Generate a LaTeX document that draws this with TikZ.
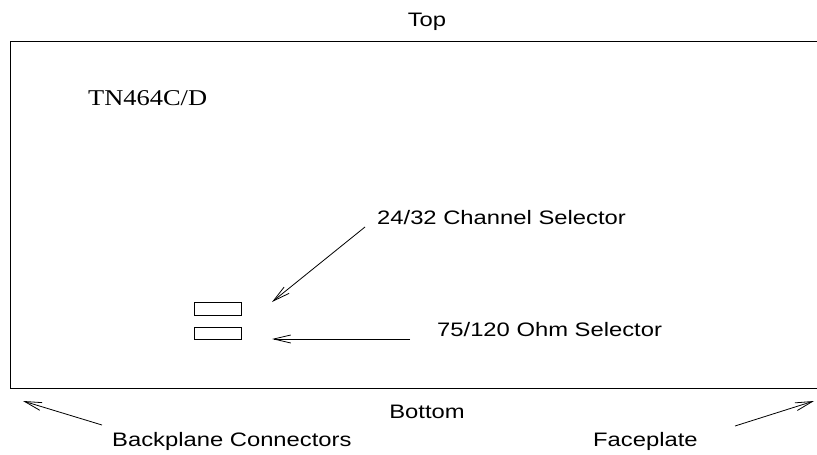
\documentclass[tikz,border=0pt]{standalone}
\usepackage{fontspec}
\usetikzlibrary{arrows.meta}
\newfontfamily\figsans[FakeStretch=1.22]{Liberation Sans}
\newfontfamily\figserif[FakeStretch=1.17]{Liberation Serif}

\begin{document}
\begin{tikzpicture}[
  x=1pt, y=-1pt,
  outline/.style={black, line width=1pt},
  switchbox/.style={draw, black, line width=0.9pt, minimum width=47pt, minimum height=12.5pt, inner sep=0pt},
  pointer/.style={-{Straight Barb[length=17pt, width=8pt]}, black, line width=0.8pt},
  label/.style={font=\figsans\fontsize{19.5}{23}\selectfont, inner sep=0pt, anchor=base west},
]
\useasboundingbox (0,0) rectangle (817,455);

% ===== Board outline (open towards the right) =====
\draw[outline] (817,41) -- (10,41) -- (10,388) -- (817,388);

% ===== Edge labels =====
\node[label, anchor=base] (top) at (427,27) {Top};
\node[label, anchor=base] (bottom) at (427,418) {Bottom};
\node[font=\figserif\fontsize{22.6}{26}\selectfont, inner sep=0pt, anchor=base west] (board) at (88,105) {TN464C/D};

% ===== Selector switches =====
\node[switchbox, anchor=north west] (chansw) at (194,302) {};
\node[switchbox, anchor=north west] (ohmsw) at (194,326.5) {};

\node[label] (chanlbl) at (377,224) {24/32 Channel Selector};
\node[label] (ohmlbl) at (437,336.5) {75/120 Ohm Selector};

\coordinate (chantail) at (365,227);
\coordinate (chantip) at (272,302);
\coordinate (ohmtail) at (410,339);
\coordinate (ohmtip) at (272,339);
\draw[pointer] (chantail) -- (chantip);
\draw[pointer] (ohmtail) -- (ohmtip);

% ===== Orientation labels below the board =====
\node[label] (backlbl) at (112,446) {Backplane Connectors};
\node[label] (facelbl) at (593,446) {Faceplate};

\coordinate (backtail) at (102,425);
\coordinate (backtip) at (23,401);
\coordinate (facetail) at (735,426);
\coordinate (facetip) at (814,401);
\draw[pointer] (backtail) -- (backtip);
\draw[pointer] (facetail) -- (facetip);

\end{tikzpicture}
\end{document}
